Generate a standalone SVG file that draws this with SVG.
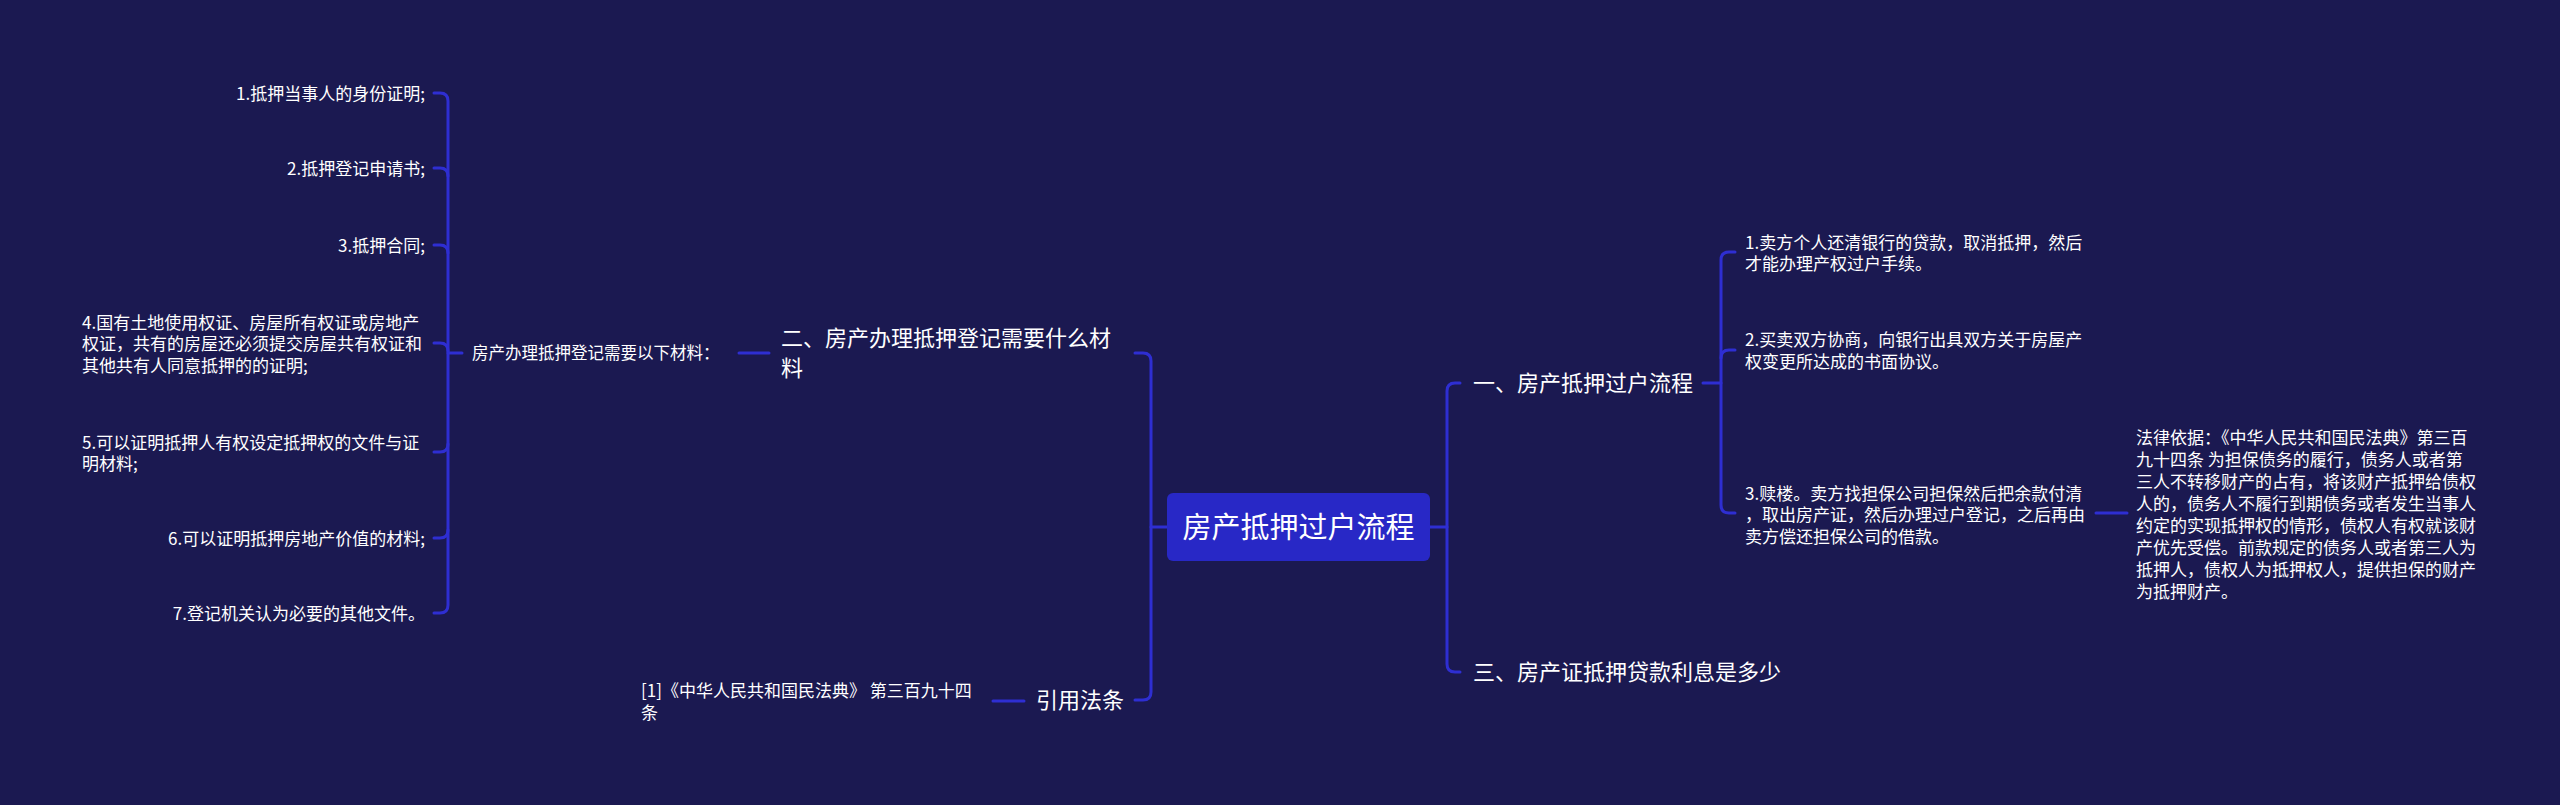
<svg xmlns="http://www.w3.org/2000/svg" width="2560" height="805" viewBox="0 0 2560 805">
<style>
.bg{fill:#1b1951}
.c{fill:none;stroke:#2e2ed2;stroke-width:3;stroke-linecap:round;stroke-linejoin:round}
text{font-family:"Noto Sans CJK SC","Noto Sans",sans-serif;fill:#ffffff}
.s{font-size:17px}
.m{font-size:22px}
.r{font-size:29px}
.e{text-anchor:end}
</style>
<rect class="bg" x="0" y="0" width="2560" height="805"/>
<g id="connectors">
<path class="c" d="M1167,527 H1151"/>
<path class="c" d="M1135,353 H1143 Q1151,353 1151,361 V692 Q1151,700 1143,700 H1135"/>
<path class="c" d="M1430,527 H1447"/>
<path class="c" d="M1460,383 H1455 Q1447,383 1447,391 V664 Q1447,672 1455,672 H1460"/>
<path class="c" d="M739,353 H769"/>
<path class="c" d="M448,353 H462"/>
<path class="c" d="M434,93 H440 Q448,93 448,101 V605 Q448,613 440,613 H434"/>
<path class="c" d="M434,168 H440 Q448,168 448,176"/>
<path class="c" d="M434,245 H440 Q448,245 448,253"/>
<path class="c" d="M434,343 H440 Q448,343 448,351"/>
<path class="c" d="M434,452 H440 Q448,452 448,444"/>
<path class="c" d="M434,538 H440 Q448,538 448,530"/>
<path class="c" d="M993,701 H1024"/>
<path class="c" d="M1703,383 H1721"/>
<path class="c" d="M1735,252 H1729 Q1721,252 1721,260 V505 Q1721,513 1729,513 H1735"/>
<path class="c" d="M1735,350 H1729 Q1721,350 1721,358"/>
<path class="c" d="M2096,513 H2127"/>
</g>
<g id="root">
<rect x="1167" y="493" width="263" height="68" rx="6" fill="#2828c6"/>
<text class="r" x="1298.5" y="538" text-anchor="middle">房产抵押过户流程</text>
</g>
<g id="n-er">
<text class="m" x="781" y="346">二、房产办理抵押登记需要什么材</text>
<text class="m" x="781" y="376">料</text>
</g>
<g id="n-materials">
<text x="472" y="359" style="font-size:16.5px">房产办理抵押登记需要以下材料：</text>
</g>
<g id="n-m1"><text class="s e" x="425" y="99.5">1.抵押当事人的身份证明;</text></g>
<g id="n-m2"><text class="s e" x="425" y="174.5">2.抵押登记申请书;</text></g>
<g id="n-m3"><text class="s e" x="425" y="251.5">3.抵押合同;</text></g>
<g id="n-m4">
<text class="s" x="82" y="328.5">4.国有土地使用权证、房屋所有权证或房地产</text>
<text class="s" x="82" y="350">权证，共有的房屋还必须提交房屋共有权证和</text>
<text class="s" x="82" y="371.5">其他共有人同意抵押的的证明;</text>
</g>
<g id="n-m5">
<text class="s" x="82" y="448.5">5.可以证明抵押人有权设定抵押权的文件与证</text>
<text class="s" x="82" y="470">明材料;</text>
</g>
<g id="n-m6"><text class="s e" x="425" y="544.5">6.可以证明抵押房地产价值的材料;</text></g>
<g id="n-m7"><text class="s e" x="425" y="619.5">7.登记机关认为必要的其他文件。</text></g>
<g id="n-cite">
<text class="m" x="1036" y="708">引用法条</text>
</g>
<g id="n-cite1">
<text class="s" x="641" y="696.5">[1]《中华人民共和国民法典》 第三百九十四</text>
<text class="s" x="641" y="718.5">条</text>
</g>
<g id="n-yi">
<text class="m" x="1473" y="391">一、房产抵押过户流程</text>
</g>
<g id="n-san">
<text class="m" x="1473" y="680">三、房产证抵押贷款利息是多少</text>
</g>
<g id="n-p1">
<text class="s" x="1745" y="248.5">1.卖方个人还清银行的贷款，取消抵押，然后</text>
<text class="s" x="1745" y="270">才能办理产权过户手续。</text>
</g>
<g id="n-p2">
<text class="s" x="1745" y="345.5">2.买卖双方协商，向银行出具双方关于房屋产</text>
<text class="s" x="1745" y="367.5">权变更所达成的书面协议。</text>
</g>
<g id="n-p3">
<text class="s" x="1745" y="499.5">3.赎楼。卖方找担保公司担保然后把余款付清</text>
<text class="s" x="1745" y="521">，取出房产证，然后办理过户登记，之后再由</text>
<text class="s" x="1745" y="542.5">卖方偿还担保公司的借款。</text>
</g>
<g id="n-law">
<text class="s" x="2136" y="443.5">法律依据：《中华人民共和国民法典》第三百</text>
<text class="s" x="2136" y="465.6">九十四条 为担保债务的履行，债务人或者第</text>
<text class="s" x="2136" y="487.7">三人不转移财产的占有，将该财产抵押给债权</text>
<text class="s" x="2136" y="509.8">人的，债务人不履行到期债务或者发生当事人</text>
<text class="s" x="2136" y="531.9">约定的实现抵押权的情形，债权人有权就该财</text>
<text class="s" x="2136" y="554">产优先受偿。前款规定的债务人或者第三人为</text>
<text class="s" x="2136" y="576.1">抵押人，债权人为抵押权人，提供担保的财产</text>
<text class="s" x="2136" y="598.2">为抵押财产。</text>
</g>
</svg>
